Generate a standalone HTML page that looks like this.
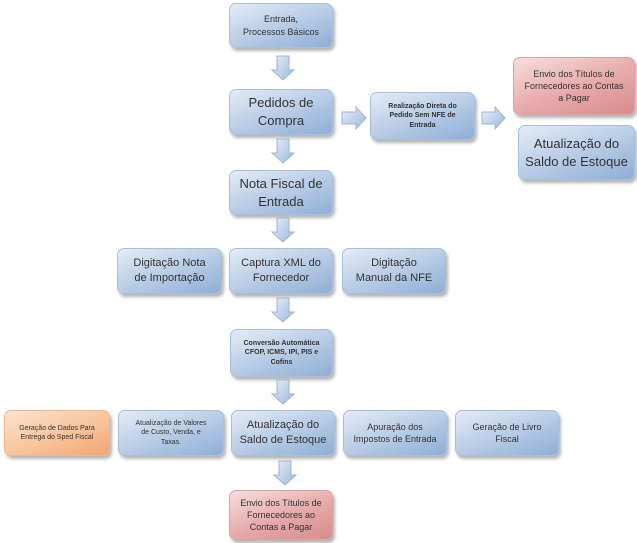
<!DOCTYPE html>
<html><head><meta charset="utf-8"><style>
body{margin:0;width:637px;height:543px;background:#fff;position:relative;overflow:hidden;font-family:"Liberation Sans",sans-serif}
.b{position:absolute;box-sizing:border-box;border-radius:7px;background:linear-gradient(160deg,#e4ecf6 0%,#b9cde6 50%,#8eaed6 100%);border:1px solid #a9bfdc;box-shadow:2px 3px 3px rgba(0,0,0,.3);display:flex;align-items:center;justify-content:center;text-align:center;color:#333;line-height:1.35}
.r{background:linear-gradient(160deg,#f8dede 0%,#e6a9a8 55%,#d98c8b 100%);border-color:#dba3a3}
.o{background:linear-gradient(160deg,#fde3cf 0%,#f8c49b 55%,#f2a56e 100%);border-color:#f1b68b}
.s{font-size:9px}.xs{font-size:7px;font-weight:bold}.m{font-size:11px}.l{font-size:13px}
svg{position:absolute}
</style></head><body>
<div class="b s" style="left:229px;top:3px;width:104px;height:45px">Entrada,<br>Processos Básicos</div>
<div class="b l" style="left:229px;top:89px;width:104px;height:46px">Pedidos de<br>Compra</div>
<div class="b xs" style="left:370px;top:92px;width:105px;height:48px">Realização Direta do<br>Pedido Sem NFE de<br>Entrada</div>
<div class="b r s" style="left:513px;top:57px;width:122px;height:58px">Envio dos Títulos de<br>Fornecedores ao Contas<br>a Pagar</div>
<div class="b l" style="left:518px;top:125px;width:117px;height:55px">Atualização do<br>Saldo de Estoque</div>
<div class="b l" style="left:229px;top:170px;width:104px;height:45px">Nota Fiscal de<br>Entrada</div>
<div class="b m" style="left:117px;top:248px;width:105px;height:46px">Digitação Nota<br>de Importação</div>
<div class="b m" style="left:229px;top:248px;width:104px;height:46px">Captura XML do<br>Fornecedor</div>
<div class="b m" style="left:342px;top:248px;width:104px;height:46px">Digitação<br>Manual da NFE</div>
<div class="b xs" style="left:230px;top:329px;width:103px;height:48px">Conversão Automática<br>CFOP, ICMS, IPI, PIS e<br>Cofins</div>
<div class="b o" style="left:4px;top:410px;width:106px;height:46px;font-size:7px">Geração de Dados Para<br>Entrega do Sped Fiscal</div>
<div class="b" style="left:118px;top:410px;width:106px;height:46px;font-size:7px">Atualização de Valores<br>de Custo, Venda, e<br>Taxas.</div>
<div class="b m" style="left:231px;top:410px;width:104px;height:46px">Atualização do<br>Saldo de Estoque</div>
<div class="b s" style="left:343px;top:410px;width:104px;height:46px">Apuração dos<br>Impostos de Entrada</div>
<div class="b s" style="left:455px;top:410px;width:104px;height:46px">Geração de Livro<br>Fiscal</div>
<div class="b r s" style="left:229px;top:490px;width:104px;height:50px">Envio dos Títulos de<br>Fornecedores ao<br>Contas a Pagar</div>
<svg width="637" height="543" style="left:0;top:0">
<defs><linearGradient id="g" x1="0" y1="0" x2="1" y2="1"><stop offset="0" stop-color="#e6eef8"/><stop offset="1" stop-color="#9cb8dc"/></linearGradient></defs>
<g fill="url(#g)" stroke="#9db5d6" stroke-width="1">
<path d="M277 56h12v14h5l-11 10l-11-10h5z"/>
<path d="M277 139h12v14h5l-11 10l-11-10h5z"/>
<path d="M277 218h12v14h5l-11 10l-11-10h5z"/>
<path d="M277 298h12v14h5l-11 10l-11-10h5z"/>
<path d="M277 380h12v14h5l-11 10l-11-10h5z"/>
<path d="M279 461h12v14h5l-11 10l-11-10h5z"/>
<path d="M342 112h14v-5l10 11l-10 11v-5h-14z"/>
<path d="M482 112h13v-5l10 11l-10 11v-5h-13z"/>
</g></svg>
</body></html>
